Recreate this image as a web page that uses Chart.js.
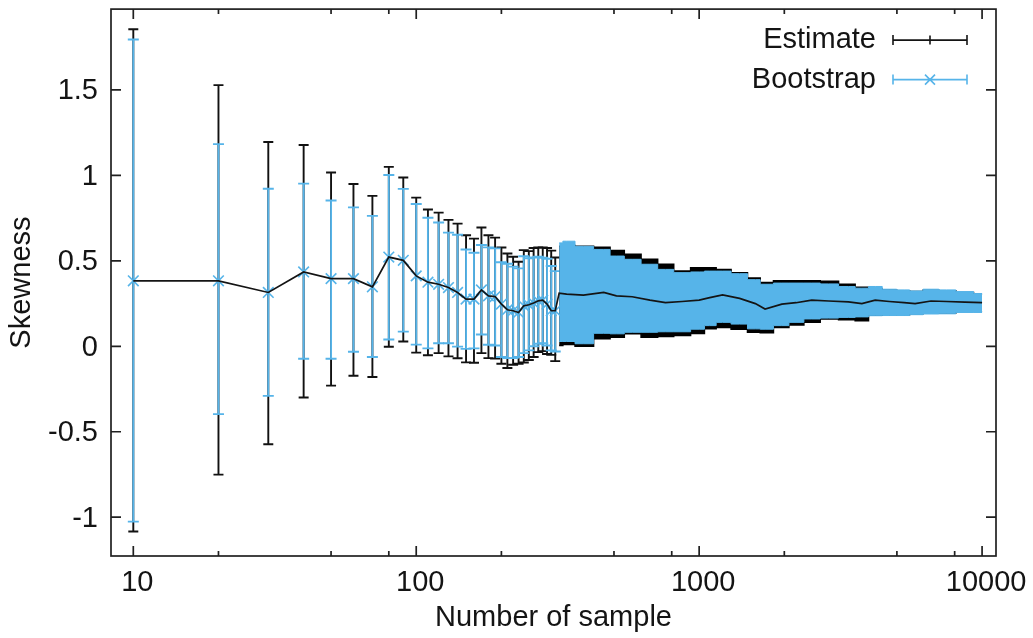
<!DOCTYPE html>
<html>
<head>
<meta charset="utf-8">
<script src="https://cdn.jsdelivr.net/npm/chart.js@4.4.1/dist/chart.umd.min.js"></script>
<style>
html,body{margin:0;padding:0;background:#fff;overflow:hidden}
canvas{display:block}
</style>
</head>
<body>
<canvas id="chart" width="1033" height="638"></canvas>
<script>
// ---------- data ----------
// sparse part (individual error bars)
const sampleN   = [10,20,30,40,50,60,70,80,90,100,110,120,130,140,150,160,170,180,190,200,210,220,230,240,250,260,270,280,290,300,310];
const estimate  = [0.383,0.383,0.315,0.435,0.396,0.396,0.348,0.522,0.503,0.412,0.375,0.363,0.344,0.315,0.276,0.276,0.330,0.295,0.291,0.247,0.214,0.208,0.198,0.237,0.243,0.253,0.266,0.270,0.247,0.208,0.208];
const estLow    = [-1.084,-0.751,-0.573,-0.300,-0.230,-0.172,-0.180,-0.003,0.028,-0.037,-0.052,-0.040,-0.059,-0.070,-0.094,-0.096,-0.040,-0.069,-0.072,-0.102,-0.127,-0.108,-0.102,-0.095,-0.080,-0.063,-0.034,-0.028,-0.045,-0.050,-0.087];
const estHigh   = [1.855,1.528,1.195,1.178,1.017,0.950,0.880,1.050,0.988,0.870,0.800,0.782,0.740,0.718,0.650,0.630,0.695,0.650,0.636,0.578,0.543,0.524,0.495,0.563,0.557,0.575,0.578,0.578,0.575,0.560,0.520];
const bootLow   = [-1.026,-0.397,-0.290,-0.073,-0.073,-0.032,-0.063,0.040,0.086,0.010,-0.012,0.018,0.018,-0.002,-0.015,-0.012,0.069,0.009,0.005,-0.063,-0.069,-0.069,-0.063,-0.040,-0.024,0.000,0.015,0.018,0.005,-0.024,-0.030];
const bootHigh  = [1.795,1.183,0.922,0.952,0.853,0.813,0.763,1.002,0.921,0.833,0.752,0.724,0.665,0.653,0.566,0.547,0.593,0.579,0.573,0.492,0.483,0.466,0.456,0.527,0.515,0.520,0.524,0.518,0.512,0.470,0.440];

// dense part (bars so close they form a band)
const bandN        = [320,340,390,460,510,580,670,760,870,1000,1090,1210,1390,1580,1710,1960,2200,2500,2870,3370,3760,4190,4700,5300,5800,6600,7500,8700,10000];
const bandEstimate = [0.311,0.305,0.300,0.315,0.295,0.290,0.270,0.256,0.262,0.270,0.285,0.301,0.280,0.250,0.218,0.247,0.255,0.270,0.265,0.260,0.250,0.270,0.262,0.255,0.250,0.265,0.262,0.258,0.256];
const bandEstLow   = [0.005,0.010,0.000,0.044,0.053,0.073,0.053,0.057,0.063,0.075,0.102,0.110,0.100,0.082,0.080,0.110,0.125,0.140,0.160,0.155,0.150,0.182,0.185,0.185,0.190,0.195,0.195,0.203,0.203];
const bandEstHigh  = [0.586,0.590,0.586,0.580,0.561,0.538,0.509,0.480,0.440,0.460,0.460,0.450,0.431,0.400,0.373,0.383,0.383,0.383,0.380,0.363,0.345,0.335,0.330,0.325,0.320,0.328,0.325,0.315,0.305];
const bandBootLow  = [0.028,0.028,0.015,0.076,0.073,0.082,0.082,0.085,0.085,0.100,0.121,0.140,0.130,0.102,0.100,0.121,0.140,0.160,0.165,0.169,0.172,0.179,0.180,0.180,0.185,0.189,0.190,0.198,0.198];
const bandBootHigh = [0.605,0.615,0.585,0.567,0.528,0.509,0.480,0.450,0.431,0.435,0.440,0.440,0.425,0.390,0.363,0.370,0.370,0.370,0.365,0.350,0.340,0.350,0.334,0.330,0.324,0.334,0.330,0.320,0.309];

// axes
const xTickValues = [10, 100, 1000, 10000];
const xTickLabels = ['10', '100', '1000', '10000'];
const xMinorTicks = [20, 50, 80, 200, 500, 800, 2000, 5000, 8000];
const yTickValues = [-1, -0.5, 0, 0.5, 1, 1.5];
const yTickLabels = ['-1', '-0.5', '0', '0.5', '1', '1.5'];

// ---------- styling ----------
const FONT = "'Liberation Sans', Arial, Helvetica, sans-serif";
const BLUE = '#56b4e9';
const INK = '#141414';
Chart.defaults.font.family = FONT;
Chart.defaults.font.size = 29;
Chart.defaults.color = INK;

const pts = (xs, ys) => xs.map((x, i) => ({x: x, y: ys[i]}));
const allN = sampleN.concat(bandN);
const allEst = estimate.concat(bandEstimate);

// error bars drawn through the chart scales
const errorBarPlugin = {
  id: 'errorBars',
  beforeDatasetsDraw(chart) {
    const {ctx, chartArea: a, scales: {x, y}} = chart;
    ctx.save();
    ctx.beginPath();
    ctx.rect(a.left, a.top, a.right - a.left, a.bottom - a.top);
    ctx.clip();
    for (const ds of chart.data.datasets) {
      const eb = ds.errorBars;
      if (!eb) continue;
      ctx.strokeStyle = eb.color;
      ctx.lineWidth = eb.width;
      eb.x.forEach((n, i) => {
        const px = x.getPixelForValue(n);
        const y1 = y.getPixelForValue(eb.low[i]);
        const y2 = y.getPixelForValue(eb.high[i]);
        ctx.beginPath();
        ctx.moveTo(px, y1); ctx.lineTo(px, y2);
        ctx.moveTo(px - eb.cap, y1); ctx.lineTo(px + eb.cap, y1);
        ctx.moveTo(px - eb.cap, y2); ctx.lineTo(px + eb.cap, y2);
        ctx.stroke();
      });
    }
    ctx.restore();
  }
};

// gnuplot-like frame with inward ticks on all sides
const framePlugin = {
  id: 'frame',
  afterDraw(chart) {
    const {ctx, chartArea: a, scales: {x, y}} = chart;
    ctx.save();
    ctx.strokeStyle = '#202020';
    ctx.lineWidth = 1.7;
    ctx.strokeRect(a.left, a.top, a.right - a.left, a.bottom - a.top);
    ctx.beginPath();
    for (const v of yTickValues) {
      const p = y.getPixelForValue(v);
      ctx.moveTo(a.left, p); ctx.lineTo(a.left + 10, p);
      ctx.moveTo(a.right, p); ctx.lineTo(a.right - 10, p);
    }
    for (const v of xTickValues) {
      const p = x.getPixelForValue(v);
      ctx.moveTo(p, a.bottom); ctx.lineTo(p, a.bottom - 10);
      ctx.moveTo(p, a.top); ctx.lineTo(p, a.top + 10);
    }
    for (const v of xMinorTicks) {
      const p = x.getPixelForValue(v);
      ctx.moveTo(p, a.bottom); ctx.lineTo(p, a.bottom - 5);
      ctx.moveTo(p, a.top); ctx.lineTo(p, a.top + 5);
    }
    ctx.stroke();
    ctx.restore();
  }
};

// gnuplot-like key in the top right corner
const legendPlugin = {
  id: 'gpLegend',
  afterDraw(chart) {
    const {ctx, chartArea: a} = chart;
    const items = [
      {label: chart.data.datasets[0].label, color: INK, marker: 'plus'},
      {label: chart.data.datasets[1].label, color: BLUE, marker: 'x'}
    ];
    ctx.save();
    ctx.font = '29px ' + FONT;
    ctx.textAlign = 'right';
    ctx.textBaseline = 'middle';
    items.forEach((it, i) => {
      const cy = a.top + 31 + i * 39.5;
      const tx = a.right - 120;
      const x1 = a.right - 103, x2 = a.right - 29, xm = (x1 + x2) / 2;
      ctx.fillStyle = INK;
      ctx.fillText(it.label, tx, cy);
      ctx.strokeStyle = it.color;
      ctx.lineWidth = 1.6;
      ctx.beginPath();
      ctx.moveTo(x1, cy); ctx.lineTo(x2, cy);
      ctx.moveTo(x1, cy - 5); ctx.lineTo(x1, cy + 5);
      ctx.moveTo(x2, cy - 5); ctx.lineTo(x2, cy + 5);
      if (it.marker === 'plus') {
        ctx.moveTo(xm, cy - 4.5); ctx.lineTo(xm, cy + 4.5);
      } else {
        ctx.moveTo(xm - 5, cy - 5); ctx.lineTo(xm + 5, cy + 5);
        ctx.moveTo(xm - 5, cy + 5); ctx.lineTo(xm + 5, cy - 5);
      }
      ctx.stroke();
    });
    ctx.restore();
  }
};

new Chart(document.getElementById('chart'), {
  type: 'line',
  data: {
    datasets: [
      {
        label: 'Estimate',
        data: pts(allN, allEst),
        borderColor: INK,
        borderWidth: 1.7,
        pointRadius: 0,
        fill: false,
        tension: 0,
        order: 0,
        errorBars: {x: sampleN, low: estLow, high: estHigh, color: '#111', width: 1.9, cap: 5}
      },
      {
        label: 'Bootstrap',
        data: pts(sampleN, estimate),
        showLine: false,
        pointStyle: 'crossRot',
        pointRadius: 7.5,
        pointBorderColor: BLUE,
        pointBorderWidth: 1.6,
        borderColor: BLUE,
        order: 1,
        errorBars: {x: sampleN, low: bootLow, high: bootHigh, color: BLUE, width: 1.9, cap: 5.5}
      },
      {
        label: 'bootHighBand',
        data: pts(bandN, bandBootHigh),
        borderColor: BLUE,
        borderWidth: 1,
        backgroundColor: BLUE,
        fill: '+1',
        stepped: 'middle',
        pointRadius: 0,
        order: 2
      },
      {
        label: 'bootLowBand',
        data: pts(bandN, bandBootLow),
        borderColor: BLUE,
        borderWidth: 1,
        fill: false,
        stepped: 'middle',
        pointRadius: 0,
        order: 2
      },
      {
        label: 'estHighBand',
        data: pts(bandN, bandEstHigh),
        borderColor: '#000',
        borderWidth: 1.5,
        backgroundColor: '#000',
        fill: '+1',
        stepped: 'middle',
        pointRadius: 0,
        order: 3
      },
      {
        label: 'estLowBand',
        data: pts(bandN, bandEstLow),
        borderColor: '#000',
        borderWidth: 1.5,
        fill: false,
        stepped: 'middle',
        pointRadius: 0,
        order: 3
      }
    ]
  },
  options: {
    responsive: false,
    animation: false,
    devicePixelRatio: 1,
    layout: {padding: {left: 0, right: 37, top: 9, bottom: 0}},
    plugins: {legend: {display: false}, tooltip: {enabled: false}},
    scales: {
      x: {
        type: 'logarithmic',
        min: 8.34,
        max: 11200,
        grid: {display: false, drawTicks: false},
        border: {display: false},
        afterBuildTicks: (s) => { s.ticks = xTickValues.map(v => ({value: v})); },
        afterFit: (s) => { s.height = 82; s.paddingLeft = 0; s.paddingRight = 0; },
        ticks: {
          autoSkip: false,
          maxRotation: 0,
          padding: 10,
          labelOffset: 4,
          color: INK,
          callback: (v, i) => xTickLabels[i]
        },
        title: {display: true, text: 'Number of sample', color: INK, padding: {top: 0, bottom: 3}}
      },
      y: {
        type: 'linear',
        min: -1.227,
        max: 1.973,
        grid: {display: false, drawTicks: false},
        border: {display: false},
        afterBuildTicks: (s) => { s.ticks = yTickValues.map(v => ({value: v})); },
        afterFit: (s) => { s.width = 111; s.paddingTop = 0; s.paddingBottom = 0; },
        ticks: {
          padding: 13,
          labelOffset: 1.5,
          color: INK,
          callback: (v, i) => yTickLabels[i]
        },
        title: {display: true, text: 'Skewness', color: INK, padding: {top: 5, bottom: 0}}
      }
    }
  },
  plugins: [errorBarPlugin, framePlugin, legendPlugin]
});
</script>
</body>
</html>
